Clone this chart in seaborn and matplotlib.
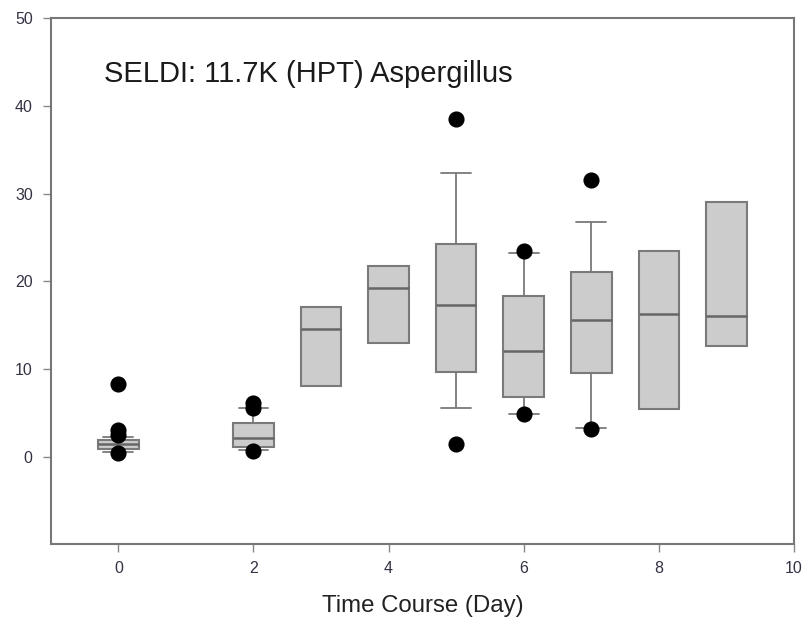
import matplotlib
matplotlib.use("Agg")
import matplotlib.pyplot as plt
import seaborn as sns
import pandas as pd

sns.set_style("white")
plt.rcParams['font.family'] = ['Liberation Sans', 'DejaVu Sans']

# Data
days   = [0, 2, 3, 4, 5, 6, 7, 8, 9]
q1     = [0.9, 1.1, 8.0, 13.0, 9.7, 6.8, 9.5, 5.4, 12.6]
median = [1.4, 2.1, 14.5, 19.2, 17.3, 12.0, 15.6, 16.3, 16.0]
q3     = [1.9, 3.8, 17.1, 21.7, 24.2, 18.3, 21.0, 23.5, 29.0]
whislo = [0.5, 0.7, 8.0, 13.0, 5.5, 4.9, 3.3, 5.4, 12.6]
whishi = [2.2, 5.5, 17.1, 21.7, 32.3, 23.2, 26.8, 23.5, 29.0]
outlier_day   = [0, 0, 0, 0, 2, 2, 2, 5, 5, 6, 6, 7, 7]
outlier_value = [8.3, 3.0, 2.5, 0.35, 6.1, 5.5, 0.6, 38.5, 1.4, 23.5, 4.9, 31.6, 3.2]

title = "SELDI: 11.7K (HPT) Aspergillus"
xlabel = "Time Course (Day)"

fig = plt.figure(figsize=(8.06, 6.27), dpi=100)
ax = fig.add_axes([0.063, 0.132, 0.922, 0.839])

stats = []
for d, a, m, b, lo, hi in zip(days, q1, median, q3, whislo, whishi):
    stats.append(dict(med=m, q1=a, q3=b, whislo=lo, whishi=hi, fliers=[]))

edge = "#7a7a7a"
ax.bxp(stats, positions=days, widths=0.6, capwidths=0.44, patch_artist=True,
       showfliers=False, manage_ticks=False,
       boxprops=dict(facecolor="#cccccc", edgecolor=edge, linewidth=1.5),
       medianprops=dict(color="#666666", linewidth=1.8),
       whiskerprops=dict(color=edge, linewidth=1.3),
       capprops=dict(color=edge, linewidth=1.3))

df = pd.DataFrame({"day": outlier_day, "value": outlier_value})
sns.scatterplot(data=df, x="day", y="value", ax=ax, color="black", s=135,
                edgecolor="black", linewidth=0, zorder=5, legend=False)

ax.set_xlim(-1, 10)
ax.set_ylim(-10, 50)
ax.set_xticks([0, 2, 4, 6, 8, 10])
ax.set_yticks([0, 10, 20, 30, 40, 50])
ax.set_xlabel(xlabel, fontsize=17.3, labelpad=14, color="#222222")
ax.set_ylabel("")
ax.tick_params(axis="both", direction="out", length=6, width=1, color="#888888",
               labelsize=11.5, labelcolor="#333344", left=True, bottom=True)
ax.tick_params(axis="x", pad=6)
ax.tick_params(axis="y", pad=7)
for sp in ax.spines.values():
    sp.set_color("#777777")
    sp.set_linewidth(1.5)
    sp.set_visible(True)

ax.text(0.072, 0.893, title, transform=ax.transAxes, fontsize=21,
        color="#1a1a1a", va="center", ha="left")

fig.savefig("out.png", dpi=100)
